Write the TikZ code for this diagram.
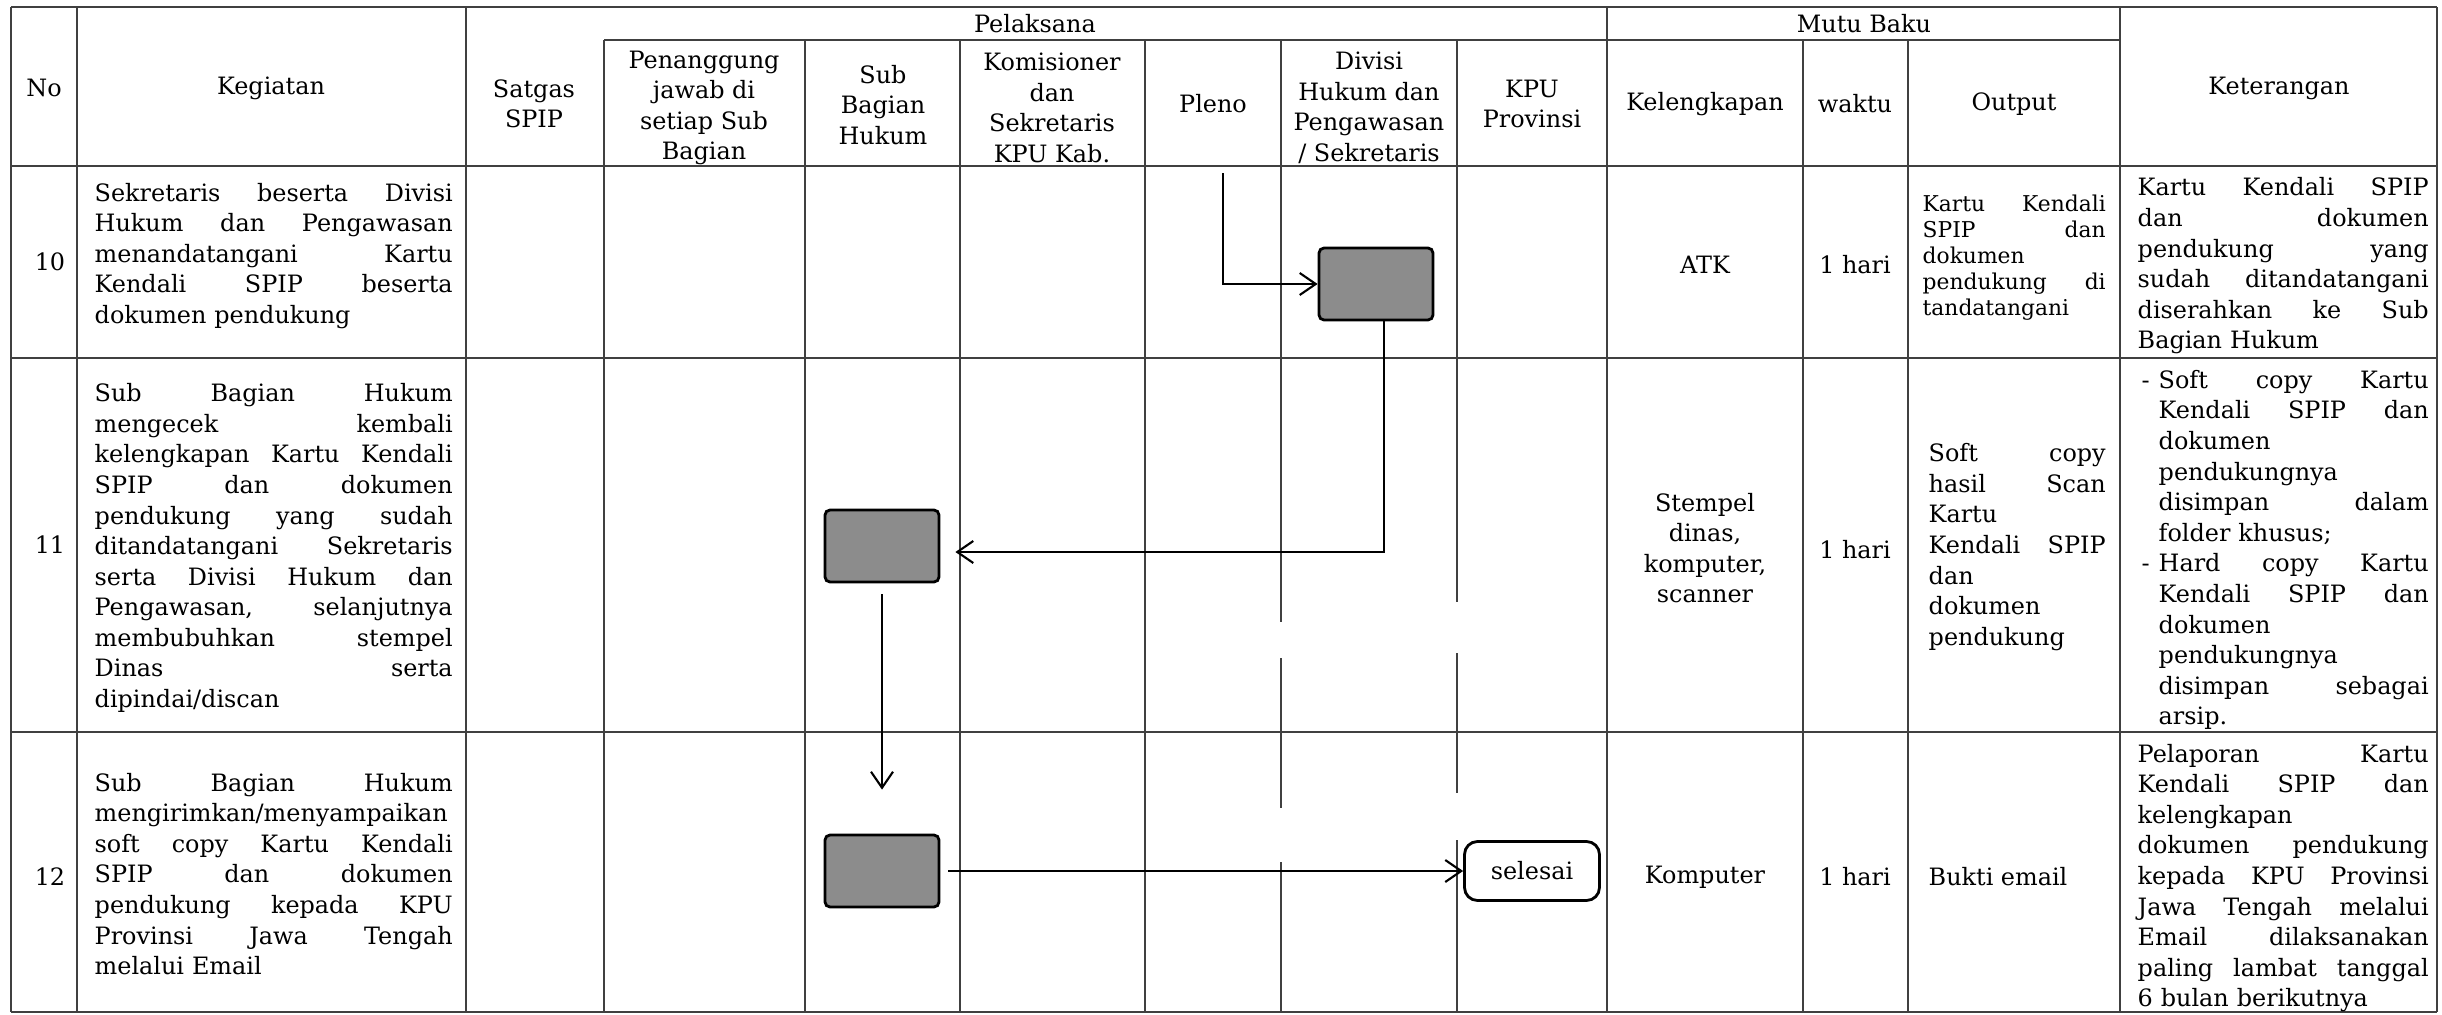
\documentclass[tikz,border=0pt]{standalone}
\usepackage{fontspec}
\setmainfont{DejaVu Serif}
\usepackage{tikz}
\usetikzlibrary{arrows.meta,positioning}
\definecolor{rulegray}{gray}{0.25}
\definecolor{boxgray}{gray}{0.55}
\newcommand{\tabfont}{\fontsize{6.8}{8.7}\selectfont}
\newcommand{\outfont}{\fontsize{6.2}{7.4}\selectfont}
\newcommand{\jlwd}{30mm}
\newcommand{\jl}[1]{\leavevmode\hbox to \jlwd{\spaceskip=0.3em plus 1fill\relax #1}\\}
\tikzstyle{grid} = [color=rulegray, line width=0.5pt]
\tikzstyle{flow} = [semithick,-{Straight Barb[length=1.6mm,width=2.2mm]}]
\tikzstyle{actbox} = [draw, thick, fill=boxgray, rounded corners=0.5mm, minimum width=11.4mm, minimum height=7.2mm, inner sep=0pt]
\tikzstyle{endbox} = [draw, thick, rounded corners=1.3mm, minimum width=13.5mm, minimum height=5.9mm, inner sep=0pt, font=\tabfont]
\tikzstyle{cell} = [align=center, inner sep=0pt, font=\tabfont]
\tikzstyle{para} = [anchor=west, align=left, inner sep=0pt, font=\tabfont]
\tikzstyle{kegtext} = [para, text width=35.8mm, execute at begin node={\def\jlwd{35.8mm}}]
\tikzstyle{kettext} = [para, text width=29.1mm, execute at begin node={\def\jlwd{29.1mm}}]
\tikzstyle{ketlist} = [para, text width=27.0mm, execute at begin node={\def\jlwd{27.0mm}}]
\tikzstyle{outtext} = [para, text width=17.7mm, execute at begin node={\def\jlwd{17.7mm}}]
\tikzstyle{outsmall} = [para, font=\outfont, text width=18.3mm, execute at begin node={\def\jlwd{18.3mm}}]

\begin{document}
\begin{tikzpicture}[x=0.1mm,y=-0.1mm]
            \useasboundingbox (0,0) rectangle (2442,1015);
            % table rules
            \draw [grid] (11,7) -- (2437,7);
            \draw [grid] (604,40) -- (2120,40);
            \draw [grid] (11,166) -- (2437,166);
            \draw [grid] (11,358) -- (2437,358);
            \draw [grid] (11,732) -- (2437,732);
            \draw [grid] (11,1012) -- (2437,1012);
            \draw [grid] (11,7) -- (11,1012);
            \draw [grid] (77,7) -- (77,1012);
            \draw [grid] (466,7) -- (466,1012);
            \draw [grid] (604,40) -- (604,1012);
            \draw [grid] (805,40) -- (805,1012);
            \draw [grid] (960,40) -- (960,1012);
            \draw [grid] (1145,40) -- (1145,1012);
            \draw [grid] (1281,40) -- (1281,622) (1281,658) -- (1281,808) (1281,862) -- (1281,1012);
            \draw [grid] (1457,40) -- (1457,602) (1457,653) -- (1457,793) (1457,840) -- (1457,1012);
            \draw [grid] (1607,7) -- (1607,1012);
            \draw [grid] (1803,40) -- (1803,1012);
            \draw [grid] (1908,40) -- (1908,1012);
            \draw [grid] (2120,7) -- (2120,1012);
            \draw [grid] (2437,7) -- (2437,1012);

            % header
            \node [cell] (hno) at (44,88) {No};
            \node [cell] (hkeg) at (271,88) {Kegiatan};
            \node [cell] (hpel) at (1035,24) {Pelaksana};
            \node [cell] (hmutu) at (1864,24) {Mutu Baku};
            \node [cell] (hket) at (2279,88) {Keterangan};
            \node [cell] (hsat) at (534,104) {Satgas\\SPIP};
            \node [cell] (hpj) at (704,108) {Penanggung\\jawab di\\setiap Sub\\Bagian};
            \node [cell] (hsub) at (883,105) {Sub\\Bagian\\Hukum};
            \node [cell] (hkom) at (1052,108) {Komisioner\\dan\\Sekretaris\\KPU Kab.};
            \node [cell] (hple) at (1213,104) {Pleno};
            \node [cell] (hdiv) at (1369,108) {Divisi\\Hukum dan\\Pengawasan\\/ Sekretaris};
            \node [cell] (hkpu) at (1532,104) {KPU\\Provinsi};
            \node [cell] (hkel) at (1705,104) {Kelengkapan};
            \node [cell] (hwak) at (1855,104) {waktu};
            \node [cell] (hout) at (2014,104) {Output};

            % row 10
            \node [cell] (no10) at (50,262) {10};
            \node [kegtext] (keg10) at (94,256) {\jl{Sekretaris beserta Divisi}\jl{Hukum dan Pengawasan}\jl{menandatangani Kartu}\jl{Kendali SPIP beserta}dokumen pendukung};
            \node [cell] (kel10) at (1705,265) {ATK};
            \node [cell] (wak10) at (1855,265) {1 hari};
            \node [outsmall] (out10) at (1922,258) {\jl{Kartu Kendali}\jl{SPIP dan}dokumen\\\jl{pendukung di}tandatangani};
            \node [kettext] (ket10) at (2137,266) {\jl{Kartu Kendali SPIP}\jl{dan dokumen}\jl{pendukung yang}\jl{sudah ditandatangani}\jl{diserahkan ke Sub}Bagian Hukum};

            % row 11
            \node [cell] (no11) at (50,545) {11};
            \node [kegtext] (keg11) at (94,548) {\jl{Sub Bagian Hukum}\jl{mengecek kembali}\jl{kelengkapan Kartu Kendali}\jl{SPIP dan dokumen}\jl{pendukung yang sudah}\jl{ditandatangani Sekretaris}\jl{serta Divisi Hukum dan}\jl{Pengawasan, selanjutnya}\jl{membubuhkan stempel}\jl{Dinas serta}dipindai/discan};
            \node [cell] (kel11) at (1705,548) {Stempel\\dinas,\\komputer,\\scanner};
            \node [cell] (wak11) at (1855,550) {1 hari};
            \node [outtext] (out11) at (1928,547) {\jl{Soft copy}\jl{hasil Scan}Kartu\\\jl{Kendali SPIP}dan\\dokumen\\pendukung};
            \node [ketlist] (ket11) at (2158,550) {\jl{\llap{-\hspace{0.9mm}}Soft copy Kartu}\jl{Kendali SPIP dan}dokumen\\pendukungnya\\\jl{disimpan dalam}folder khusus;\\\jl{\llap{-\hspace{0.9mm}}Hard copy Kartu}\jl{Kendali SPIP dan}dokumen\\pendukungnya\\\jl{disimpan sebagai}arsip.};

            % row 12
            \node [cell] (no12) at (50,877) {12};
            \node [kegtext] (keg12) at (94,874) {\jl{Sub Bagian Hukum}mengirimkan/menyampaikan\\\jl{soft copy Kartu Kendali}\jl{SPIP dan dokumen}\jl{pendukung kepada KPU}\jl{Provinsi Jawa Tengah}melalui Email};
            \node [cell] (kel12) at (1705,877) {Komputer};
            \node [cell] (wak12) at (1855,877) {1 hari};
            \node [para] (out12) at (1928,877) {Bukti email};
            \node [kettext] (ket12) at (2137,878) {\jl{Pelaporan Kartu}\jl{Kendali SPIP dan}kelengkapan\\\jl{dokumen pendukung}\jl{kepada KPU Provinsi}\jl{Jawa Tengah melalui}\jl{Email dilaksanakan}\jl{paling lambat tanggal}6 bulan berikutnya};

            % flow
            \coordinate (pleno) at (1223,173);
            \node [actbox] (act10) at (1376,284) {};
            \node [actbox] (act11) at (882,546) {};
            \node [actbox] (act12) at (882,871) {};
            \node [endbox] (selesai) at (1532,871) {selesai};
            \draw [flow] (pleno) |- (act10.west);
            \draw [flow] ([xshift=0.8mm]act10.south) |- ([xshift=1.5mm,yshift=-0.6mm]act11.east);
            \draw [flow, shorten <=1.1mm, shorten >=4.4mm] (act11.south) -- (act12.north);
            \draw [flow, shorten <=0.8mm] (act12.east) -- (selesai.west);
        \end{tikzpicture}
\end{document}
